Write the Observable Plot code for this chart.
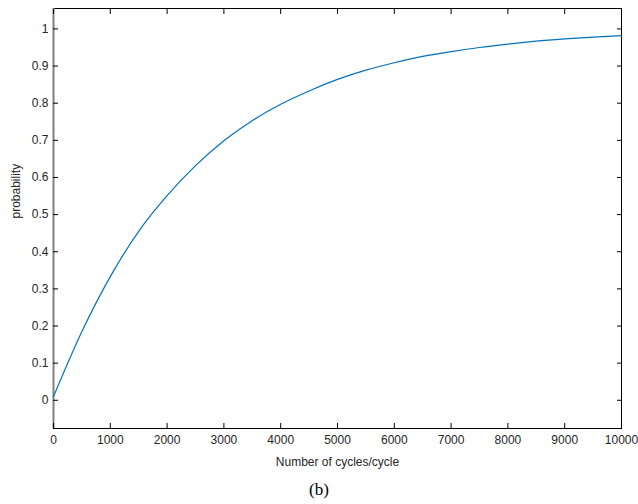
<!DOCTYPE html>
<html>
<head>
<meta charset="utf-8">
<script src="https://cdn.jsdelivr.net/npm/d3@7"></script>
<script src="https://cdn.jsdelivr.net/npm/@observablehq/plot@0.6"></script>
<style>
  html, body { margin: 0; padding: 0; background: #fff; }
  #chart { width: 638px; }
  #caption { width: 638px; text-align: center; font-family: "Liberation Serif", "Times New Roman", serif; font-size: 17px; color: #000; line-height: 20px; margin-top: 4px; }
</style>
</head>
<body>
<div id="chart"></div>
<div id="caption">(b)</div>
<script>
const cycles = [0, 500, 1000, 1500, 2000, 2500, 3000, 3500, 4000, 4500, 5000, 5500, 6000, 6500, 7000, 7500, 8000, 8500, 9000, 9500, 10000];
const probability = [0.01, 0.185, 0.333, 0.455, 0.551, 0.632, 0.699, 0.753, 0.797, 0.833, 0.864, 0.889, 0.909, 0.926, 0.939, 0.950, 0.959, 0.967, 0.973, 0.978, 0.982];
const xTicks = [0, 1000, 2000, 3000, 4000, 5000, 6000, 7000, 8000, 9000, 10000];
const yTicks = [0, 0.1, 0.2, 0.3, 0.4, 0.5, 0.6, 0.7, 0.8, 0.9, 1];
const xLabel = "Number of cycles/cycle";
const yLabel = "probability";

const data = cycles.map((c, i) => ({c, p: probability[i]}));
const fmtY = d => String(+d.toFixed(1));

const plot = Plot.plot({
  width: 638,
  height: 476,
  marginLeft: 53,
  marginRight: 17,
  marginTop: 8,
  marginBottom: 48,
  style: {fontFamily: "'Liberation Sans', Arial, sans-serif", fontSize: "12px", color: "#262626", background: "#fff"},
  x: {domain: [0, 10000]},
  y: {domain: [-0.076, 1.055]},
  marks: [
    Plot.frame({stroke: "#000", strokeWidth: 1}),
    Plot.ruleX([0], {stroke: "#808080", strokeWidth: 2}),
    Plot.axisX({anchor: "bottom", ticks: xTicks, tickSize: -5, tickPadding: 12, tickFormat: d => String(d), label: null, stroke: "#000"}),
    Plot.axisX({anchor: "top", ticks: xTicks, tickSize: -5, tickFormat: () => "", label: null, stroke: "#000"}),
    Plot.axisY({anchor: "left", ticks: yTicks, tickSize: -5, tickPadding: 10, tickFormat: fmtY, label: null, stroke: "#000"}),
    Plot.axisY({anchor: "right", ticks: yTicks, tickSize: -5, tickFormat: () => "", label: null, stroke: "#000"}),
    Plot.text([xLabel], {frameAnchor: "bottom", dy: 37, text: d => d, fontSize: 12, fill: "#262626"}),
    Plot.text([yLabel], {frameAnchor: "left", dx: -37, rotate: -90, text: d => d, fontSize: 12, fill: "#262626"}),
    Plot.line(data, {x: "c", y: "p", stroke: "#0072BD", strokeWidth: 1.2, curve: "monotone-x"})
  ]
});
document.getElementById("chart").appendChild(plot);
</script>
</body>
</html>
